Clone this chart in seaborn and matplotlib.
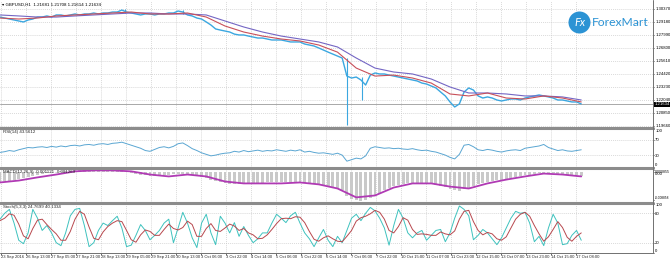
import numpy as np
import matplotlib
matplotlib.use("Agg")
import matplotlib.pyplot as plt
import seaborn as sns
from matplotlib.lines import Line2D
from matplotlib.patches import Ellipse
from matplotlib.transforms import blended_transform_factory

# ------------------------------------------------------------------ data
# GBPUSD H1 close, one value every 3 bars
close = [
    1.2963, 1.2954, 1.2945, 1.2936, 1.2927, 1.2918, 1.2936, 1.2945, 1.2963, 1.2963,
    1.2973, 1.2963, 1.2982, 1.2982, 1.2973, 1.2982, 1.2991, 1.2982, 1.2991, 1.2991,
    1.3000, 1.2991, 1.3000, 1.3000, 1.3009, 1.3009, 1.3027, 1.3009, 1.3000, 1.2991,
    1.2982, 1.2991, 1.2991, 1.2982, 1.2991, 1.2991, 1.3000, 1.3000, 1.3018, 1.3009,
    1.2982, 1.2973, 1.2954, 1.2945, 1.2918, 1.2890, 1.2854, 1.2844, 1.2835, 1.2826,
    1.2807, 1.2799, 1.2799, 1.2789, 1.2780, 1.2771, 1.2771, 1.2762, 1.2753, 1.2753,
    1.2753, 1.2744, 1.2735, 1.2735, 1.2735, 1.2716, 1.2707, 1.2698, 1.2680, 1.2661,
    1.2642, 1.2624, 1.2606, 1.2588, 1.2423, 1.2405, 1.2414, 1.2387, 1.2341, 1.2432,
    1.2451, 1.2442, 1.2442, 1.2432, 1.2423, 1.2414, 1.2405, 1.2396, 1.2387, 1.2378,
    1.2359, 1.2350, 1.2332, 1.2314, 1.2277, 1.2241, 1.2186, 1.2140, 1.2168, 1.2277,
    1.2314, 1.2295, 1.2241, 1.2222, 1.2232, 1.2222, 1.2204, 1.2195, 1.2204, 1.2213,
    1.2213, 1.2204, 1.2222, 1.2232, 1.2241, 1.2250, 1.2241, 1.2232, 1.2222, 1.2204,
    1.2204, 1.2195, 1.2186, 1.2186, 1.2168,
]
# long wicks (bar index, low, high)
spike_bars = [80, 117, 222, 232]
spike_low = [1.3000, 1.2991, 1.1976, 1.2204]
spike_high = [1.3037, 1.3027, 1.2588, 1.2414]

# moving averages, one value every 12 bars
ma_fast = [1.2954, 1.2945, 1.2954, 1.2973, 1.2982, 1.2991, 1.3000, 1.3009, 1.2991, 1.2991,
           1.3000, 1.2963, 1.2881, 1.2826, 1.2789, 1.2762, 1.2744, 1.2707, 1.2642, 1.2496,
           1.2423, 1.2432, 1.2405, 1.2359, 1.2259, 1.2241, 1.2268, 1.2222, 1.2213, 1.2241,
           1.2222, 1.2186]
ma_slow = [1.2982, 1.2973, 1.2963, 1.2963, 1.2973, 1.2982, 1.2991, 1.3000, 1.3000, 1.2991,
           1.2991, 1.2982, 1.2927, 1.2872, 1.2826, 1.2789, 1.2762, 1.2735, 1.2689, 1.2588,
           1.2496, 1.2460, 1.2442, 1.2396, 1.2323, 1.2268, 1.2268, 1.2259, 1.2241, 1.2241,
           1.2232, 1.2204]

# RSI(14), every 3 bars
rsi = [37, 39, 42, 40, 44, 47, 50, 49, 51, 52,
       50, 53, 51, 54, 52, 55, 56, 54, 57, 58,
       56, 59, 60, 58, 61, 62, 64, 60, 56, 52,
       48, 42, 40, 45, 50, 52, 49, 53, 60, 62,
       55, 47, 42, 36, 32, 28, 30, 33, 35, 36,
       40, 38, 42, 39, 41, 43, 40, 42, 41, 44,
       42, 40, 43, 41, 44, 38, 40, 37, 35, 36,
       34, 32, 35, 30, 14, 18, 22, 20, 28, 48,
       52, 50, 48, 49, 47, 48, 46, 45, 47, 44,
       42, 43, 40, 38, 34, 30, 24, 20, 32, 56,
       58, 52, 44, 42, 45, 43, 40, 38, 41, 43,
       44, 42, 48, 50, 52, 54, 58, 50, 46, 42,
       44, 41, 40, 42, 44]

# MACD(12,26,9): main (histogram) every 3 bars, signal every 12 bars
macd_main = [-0.0030, -0.0028, -0.0026, -0.0024, -0.0021, -0.0018, -0.0015, -0.0011, -0.0008, -0.0005,
             -0.0003, -0.0001, 0.0001, 0.0003, 0.0004, 0.0005, 0.0006, 0.0007, 0.0008, 0.0008,
             0.0007, 0.0007, 0.0006, 0.0006, 0.0005, 0.0004, 0.0003, 0.0001, -0.0002, -0.0005,
             -0.0008, -0.0010, -0.0011, -0.0012, -0.0011, -0.0009, -0.0007, -0.0005, -0.0004, -0.0005,
             -0.0007, -0.0009, -0.0011, -0.0014, -0.0018, -0.0023, -0.0028, -0.0032, -0.0035, -0.0037,
             -0.0037, -0.0036, -0.0035, -0.0034, -0.0034, -0.0033, -0.0033, -0.0032, -0.0032, -0.0031,
             -0.0031, -0.0031, -0.0032, -0.0032, -0.0033, -0.0034, -0.0035, -0.0037, -0.0040, -0.0043,
             -0.0046, -0.0049, -0.0052, -0.0056, -0.0075, -0.0084, -0.0088, -0.0089, -0.0087, -0.0080,
             -0.0072, -0.0064, -0.0056, -0.0049, -0.0044, -0.0040, -0.0037, -0.0035, -0.0034, -0.0034,
             -0.0035, -0.0036, -0.0038, -0.0040, -0.0043, -0.0047, -0.0052, -0.0057, -0.0058, -0.0054,
             -0.0048, -0.0042, -0.0037, -0.0033, -0.0030, -0.0027, -0.0025, -0.0023, -0.0021, -0.0019,
             -0.0016, -0.0013, -0.0010, -0.0007, -0.0005, -0.0003, -0.0002, -0.0002, -0.0003, -0.0005,
             -0.0007, -0.0008, -0.0009, -0.0010, -0.0011]
macd_signal = [-0.0032, -0.0026, -0.0016, -0.0007, 0.0003, 0.0006, 0.0006, 0.0003, -0.0007, -0.0013,
               -0.0007, -0.0013, -0.0029, -0.0035, -0.0035, -0.0035, -0.0032, -0.0038, -0.0051, -0.0079,
               -0.0073, -0.0048, -0.0035, -0.0035, -0.0045, -0.0051, -0.0035, -0.0023, -0.0013, -0.0004,
               -0.0007, -0.0013]

# Stochastic(5,3,3), every 3 bars
stoch_k = [68, 80, 88, 60, 25, 18, 40, 88, 70, 45,
           55, 40, 20, 14, 40, 75, 88, 90, 55, 12,
           20, 45, 60, 55, 65, 74, 50, 12, 15, 35,
           57, 45, 26, 35, 45, 60, 68, 20, 50, 82,
           60, 30, 10, 60, 78, 40, 16, 74, 60, 40,
           61, 33, 53, 35, 20, 28, 40, 40, 60, 78,
           70, 61, 75, 82, 60, 40, 28, 12, 30, 47,
           25, 12, 33, 20, 45, 70, 78, 65, 80, 92,
           85, 70, 50, 15, 55, 88, 70, 40, 30, 40,
           45, 25, 35, 45, 47, 22, 40, 70, 95, 88,
           75, 26, 35, 47, 40, 28, 16, 30, 50, 70,
           84, 80, 82, 60, 22, 33, 14, 50, 78, 60,
           16, 18, 35, 45, 25]
stoch_d = [65, 70, 79, 76, 58, 34, 28, 49, 66, 68,
           57, 47, 38, 25, 25, 43, 68, 84, 78, 52,
           29, 26, 42, 53, 60, 65, 63, 45, 26, 21,
           36, 46, 43, 35, 35, 47, 58, 49, 46, 51,
           64, 57, 33, 33, 49, 59, 45, 43, 50, 58,
           54, 45, 49, 40, 36, 28, 29, 36, 47, 59,
           69, 70, 69, 73, 72, 61, 43, 27, 23, 30,
           34, 28, 23, 22, 33, 45, 64, 71, 74, 79,
           86, 82, 68, 45, 40, 53, 71, 66, 47, 37,
           38, 37, 35, 35, 42, 38, 36, 44, 68, 84,
           86, 63, 45, 36, 41, 38, 28, 25, 32, 50,
           68, 78, 82, 74, 55, 38, 23, 32, 47, 63,
           51, 31, 23, 33, 40]

price_ticks = [1.19660, 1.20850, 1.22040, 1.23230, 1.24420,
               1.25610, 1.26800, 1.27990, 1.29180, 1.30370]
current_price = 1.21634
x_tick_labels = ["23 Sep 2016", "26 Sep 13:00", "27 Sep 05:00", "27 Sep 21:00", "28 Sep 13:00",
                 "29 Sep 05:00", "29 Sep 21:00", "30 Sep 13:00", "3 Oct 06:00", "3 Oct 22:00",
                 "4 Oct 14:00", "5 Oct 06:00", "5 Oct 22:00", "6 Oct 14:00", "7 Oct 06:00",
                 "7 Oct 22:00", "10 Oct 15:00", "11 Oct 07:00", "11 Oct 23:00", "12 Oct 15:00",
                 "13 Oct 07:00", "13 Oct 23:00", "14 Oct 15:00", "17 Oct 08:00"]
main_title = "\u25be GBPUSD,H1  1.21681 1.21708 1.21614 1.21634"
rsi_title = "RSI(14) 43.5612"
macd_title = "MACD(12,26,9) -0.001121 -0.001269"
stoch_title = "Stoch(5,3,3) 24.7699 40.1334"
macd_labels = ["0.000855", "0.00", "-0.008858"]
macd_label_vals = [0.000855, 0.0, -0.008858]

# ------------------------------------------------------------------ style
sns.set_style("white")
plt.rcParams['font.family'] = ['Liberation Sans Narrow', 'Liberation Sans', 'DejaVu Sans']

W, H = 670, 261
BAR_PX = 1.5625          # pixels per H1 bar
PLOT_R = 653             # right edge of plotting area (px)
FS = 3.2                 # panel titles
FS_Y = 3.1               # right-hand scale
FS_X = 3.0               # time scale

fig = plt.figure(figsize=(W / 100, H / 100), dpi=100)
fig.patch.set_facecolor("white")


def ax_px(top, bottom):
    return fig.add_axes([0, 1 - bottom / H, PLOT_R / W, (bottom - top) / H])


ax_main = ax_px(1, 127)
ax_rsi = ax_px(128.5, 166.5)
ax_macd = ax_px(168.5, 201.5)
ax_sto = ax_px(203.5, 252.5)
axes = [ax_main, ax_rsi, ax_macd, ax_sto]

close_bars = np.arange(len(close)) * 3
smooth_bars = np.arange(len(ma_fast)) * 12
tick_bars = np.arange(len(x_tick_labels)) * 16 + 0.64
grid_kw = dict(color="#C4C4C4", linestyle=(0, (1.2, 1.6)), linewidth=0.5)

for ax in axes:
    ax.set_xlim(0, PLOT_R / BAR_PX)
    for s in ax.spines.values():
        s.set_visible(False)
    ax.set_facecolor("white")
    ax.set_xticks(tick_bars)
    ax.xaxis.grid(True, **grid_kw)
    ax.yaxis.tick_right()
    ax.tick_params(axis="y", length=1.0, width=0.5, pad=0.6, labelsize=FS_Y, colors="#000000")
    ax.tick_params(axis="x", length=0, labelbottom=False)
    ax.set_axisbelow(True)
    ax.set_xlabel("")
    ax.set_ylabel("")

# ---- main price panel
ax_main.set_ylim(1.19568, 1.31098)
ax_main.set_yticks(price_ticks)
ax_main.set_yticklabels([f"{v:.5f}" for v in price_ticks])
ax_main.yaxis.grid(True, **grid_kw)
ax_main.axhline(current_price, color="#A8A8A8", lw=0.7, zorder=1)
ax_main.vlines(spike_bars, spike_low, spike_high, color="#3BA7E0", lw=0.8, zorder=3)
sns.lineplot(x=close_bars, y=close, ax=ax_main, color="#3BA7E0", lw=1.0, zorder=3)
sns.lineplot(x=smooth_bars, y=ma_slow, ax=ax_main, color="#7466C4", lw=0.8, zorder=4)
sns.lineplot(x=smooth_bars, y=ma_fast, ax=ax_main, color="#C8505A", lw=0.8, zorder=4)
ax_main.text(0.003, 0.985, main_title, transform=ax_main.transAxes, fontsize=FS,
             va="top", ha="left", color="#000000")
ax_main.text(1.0025, current_price, f"{current_price:.5f}",
             transform=blended_transform_factory(ax_main.transAxes, ax_main.transData),
             fontsize=FS_Y, color="white", va="center", ha="left",
             bbox=dict(boxstyle="square,pad=0.15", fc="black", ec="black", lw=0))

# ---- RSI
ax_rsi.set_ylim(0, 100)
ax_rsi.set_yticks([0, 30, 70, 100])
ax_rsi.set_yticklabels(["0", "30", "70", "100"])
for lv in (30, 70):
    ax_rsi.axhline(lv, **grid_kw)
sns.lineplot(x=close_bars, y=rsi, ax=ax_rsi, color="#5AA6D2", lw=0.7)
ax_rsi.text(0.004, 0.97, rsi_title, transform=ax_rsi.transAxes, fontsize=FS, va="top", ha="left")

# ---- MACD
ax_macd.set_ylim(-0.0092, 0.0012)
ax_macd.set_yticks(macd_label_vals)
ax_macd.set_yticklabels(macd_labels)
ax_macd.bar(close_bars, macd_main, width=1.9, color="#C9C9C9", linewidth=0, zorder=2)
sns.lineplot(x=smooth_bars, y=macd_signal, ax=ax_macd, color="#B03AB4", lw=1.3, zorder=3)
ax_macd.text(0.004, 0.96, macd_title, transform=ax_macd.transAxes, fontsize=FS, va="top", ha="left")

# ---- Stochastic
ax_sto.set_ylim(0, 100)
ax_sto.set_yticks([0, 20, 80, 100])
ax_sto.set_yticklabels(["0", "20", "80", "100"])
for lv in (20, 80):
    ax_sto.axhline(lv, **grid_kw)
sns.lineplot(x=close_bars, y=stoch_k, ax=ax_sto, color="#3EC2BE", lw=0.7, zorder=3)
sns.lineplot(x=close_bars, y=stoch_d, ax=ax_sto, color="#B8484E", lw=0.7, zorder=4)
ax_sto.text(0.004, 0.97, stoch_title, transform=ax_sto.transAxes, fontsize=FS, va="top", ha="left")
ax_sto.set_xticklabels(x_tick_labels)
ax_sto.tick_params(axis="x", length=1.5, width=0.5, pad=0.5, labelsize=FS_X, labelbottom=True,
                   bottom=True, direction="out")
for lab in ax_sto.get_xticklabels():
    lab.set_ha("left")

# label alignment at panel edges
for ax in (ax_rsi, ax_sto):
    for lab in ax.get_yticklabels():
        if lab.get_text() == "100":
            lab.set_va("top")
        elif lab.get_text() == "0":
            lab.set_va("bottom")
for lab in ax_macd.get_yticklabels():
    if lab.get_text() == macd_labels[0]:
        lab.set_va("top")
        lab.set_fontsize(2.5)
    elif lab.get_text() == macd_labels[1]:
        lab.set_va("top")
    elif lab.get_text() == macd_labels[2]:
        lab.set_va("bottom")
        lab.set_fontsize(2.3)

# ---- separators and frame
for ysep in (127.6, 167.5, 202.5):
    fig.add_artist(Line2D([0, PLOT_R / W], [1 - ysep / H] * 2, transform=fig.transFigure,
                          color="#8C8C8C", lw=2.2))
fig.add_artist(Line2D([PLOT_R / W] * 2, [1 - 253 / H, 1], transform=fig.transFigure,
                      color="#707070", lw=0.7))
fig.add_artist(Line2D([0, PLOT_R / W], [1 - 253 / H] * 2, transform=fig.transFigure,
                      color="#707070", lw=0.7))

# ---- ForexMart logo
logo_blue = "#2C93D4"
fig.add_artist(Ellipse((579.5 / W, 1 - 22.5 / H), 22 / W, 22 / H, transform=fig.transFigure,
                       facecolor=logo_blue, edgecolor="none"))
fig.text(579.5 / W, 1 - 22.5 / H, "Fx", color="white", fontsize=8, fontstyle="italic",
         ha="center", va="center", family=["Lato", "DejaVu Sans"])
fig.text(592 / W, 1 - 23 / H, "ForexMart", color=logo_blue, fontsize=8.7,
         ha="left", va="center", family=["Lato", "DejaVu Sans"])

fig.savefig("out.png", dpi=100, facecolor="white")
